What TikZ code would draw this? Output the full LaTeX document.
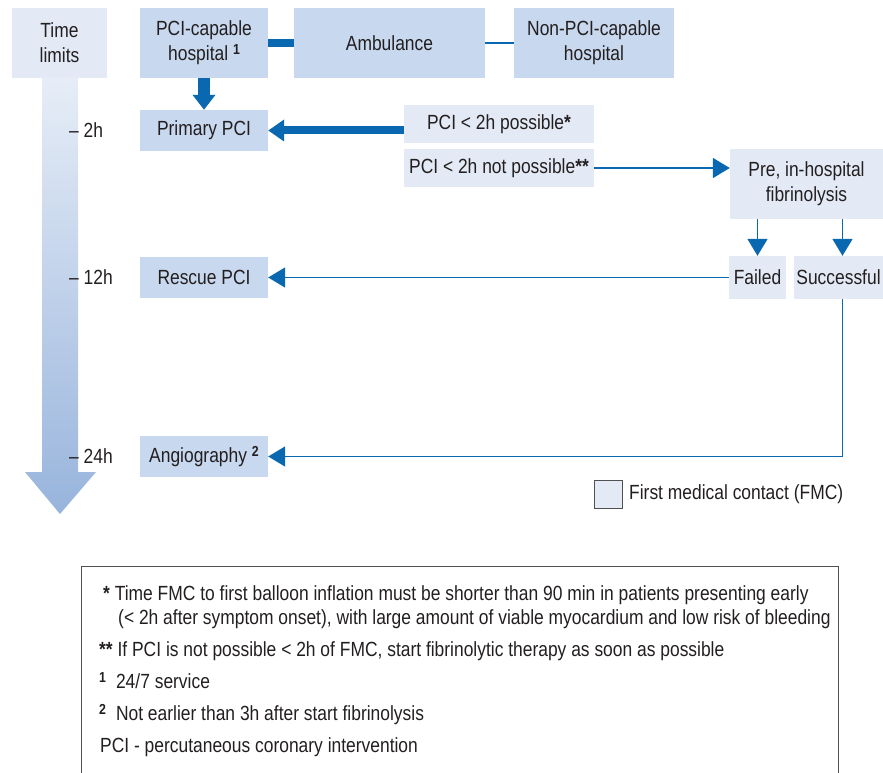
\documentclass[tikz,border=0pt]{standalone}
\usepackage{fontspec}
\setmainfont[FakeStretch=0.85]{Liberation Sans}
\usetikzlibrary{arrows.meta}
\definecolor{medbox}{RGB}{200,216,238}
\definecolor{lightbox}{RGB}{227,234,245}
\definecolor{flowblue}{RGB}{10,104,176}
\definecolor{txt}{RGB}{35,31,32}
\definecolor{shaftlight}{RGB}{230,237,247}
\definecolor{shaftdark}{RGB}{152,180,220}
\definecolor{framegray}{RGB}{80,80,80}
\newcommand\mfont{\fontsize{20.5pt}{25pt}\selectfont}
\newcommand\supnum[1]{\raisebox{0.55ex}{\fontsize{14.5pt}{14.5pt}\selectfont\bfseries #1}}
\begin{document}
\begin{tikzpicture}[x=1pt,y=-1pt,
  every node/.style={font=\mfont, text=txt},
  bx/.style={inner sep=0pt, align=center},
  medb/.style={bx, fill=medbox},
  lightb/.style={bx, fill=lightbox},
  thickline/.style={draw=flowblue, line width=8pt},
  thickdown/.style={draw=flowblue, line width=12pt, -{Triangle[length=15pt,width=22pt]}},
  thickleft/.style={draw=flowblue, line width=8pt, -{Triangle[length=16pt,width=21pt]}},
  thinline/.style={draw=flowblue, line width=1.8pt},
  thinarrow/.style={draw=flowblue, line width=1.8pt, -{Triangle[length=17pt,width=20pt]}},
  tick/.style={anchor=west, inner sep=0pt},
  note/.style={anchor=base west, inner sep=0pt}]
\useasboundingbox (0,0) rectangle (883,773);

% time arrow
\shade[top color=shaftlight, bottom color=shaftdark]
  (42,78) -- (78,78) -- (78,472) -- (96,472) -- (60,514) -- (25,472) -- (42,472) -- cycle;
\node[lightb, minimum width=95pt, minimum height=70pt] (time) at (59.5,43) {Time\\limits};
\node[tick] (t2) at (69,130) {– 2h};
\node[tick] (t12) at (69,277.5) {– 12h};
\node[tick] (t24) at (69,456.5) {– 24h};

% top row
\node[medb, minimum width=128pt, minimum height=70pt] (pcicap) at (204,43) {PCI-capable\\hospital \supnum{1}};
\node[medb, minimum width=191pt, minimum height=70pt] (amb) at (389.5,43) {Ambulance};
\node[medb, minimum width=160pt, minimum height=70pt] (nonpci) at (594,43) {Non-PCI-capable\\hospital};

% left column
\node[medb, minimum width=128pt, minimum height=41pt] (primary) at (204,130.5) {Primary PCI};
\node[medb, minimum width=128pt, minimum height=41pt] (rescue) at (204,277.5) {Rescue PCI};
\node[medb, minimum width=128pt, minimum height=41pt] (angio) at (204,456.5) {Angiography \supnum{2}};

% decision boxes
\node[lightb, minimum width=190pt, minimum height=38pt] (poss) at (499,124) {PCI < 2h possible\textbf{*}};
\node[lightb, minimum width=190pt, minimum height=38pt] (notposs) at (499,168) {PCI < 2h not possible\textbf{**}};
\node[lightb, minimum width=153pt, minimum height=70pt] (fib) at (806.5,184) {Pre, in-hospital\\fibrinolysis};
\node[lightb, minimum width=57pt, minimum height=43pt] (failed) at (757.5,277.5) {Failed};
\node[lightb, minimum width=89pt, minimum height=43pt] (succ) at (838.5,277.5) {Successful};

% connectors
\draw[thickline] (pcicap) -- (amb);
\draw[thinline] (amb) -- (nonpci);
\draw[thickdown] (pcicap.south) -- (primary.north);
\draw[thickleft] (primary.east -| poss.west) -- (primary.east);
\draw[thinarrow] (notposs.east) -- (notposs.east -| fib.west);
\draw[thinarrow] (failed.north |- fib.south) -- (failed.north);
\draw[thinarrow] ([xshift=4pt]succ.north |- fib.south) -- ([xshift=4pt]succ.north);
\draw[thinarrow] (failed.west) -- (rescue.east);
\draw[thinarrow] ([xshift=4pt]succ.south) |- (angio.east);

% legend
\node[draw=framegray, line width=0.8pt, fill=lightbox, minimum width=28pt, minimum height=28pt, inner sep=0pt] (legbox) at (608,494) {};
\node[anchor=west, inner sep=0pt] (legtext) at (629,494) {First medical contact (FMC)};

% notes
\node[draw=framegray, line width=1.2pt, minimum width=757pt, minimum height=230pt, anchor=north west, inner sep=0pt] (notes) at (81,566) {};
\node[note] (n1) at (103,600) {\textbf{*} Time FMC to first balloon inflation must be shorter than 90 min in patients presenting early};
\node[note] (n2) at (118,624) {(< 2h after symptom onset), with large amount of viable myocardium and low risk of bleeding};
\node[note] (n3) at (99,656) {\textbf{**} If PCI is not possible < 2h of FMC, start fibrinolytic therapy as soon as possible};
\node[note] (n4) at (99,688) {\supnum{1}\hspace{10pt}24/7 service};
\node[note] (n5) at (99,720) {\supnum{2}\hspace{10pt}Not earlier than 3h after start fibrinolysis};
\node[note] (n6) at (100,752) {PCI - percutaneous coronary intervention};
\end{tikzpicture}
\end{document}
